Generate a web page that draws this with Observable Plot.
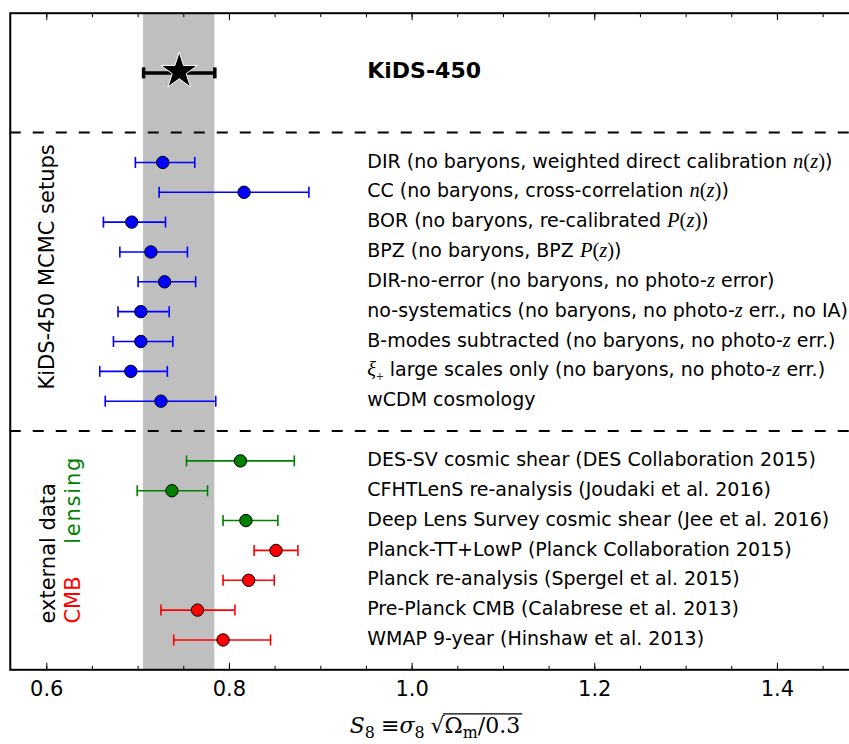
<!DOCTYPE html>
<html><head><meta charset="utf-8">
<script src="https://cdn.jsdelivr.net/npm/d3@7"></script>
<script src="https://cdn.jsdelivr.net/npm/@observablehq/plot@0.6"></script>
<style>html,body{margin:0;padding:0;background:#fff} svg{display:block}</style>
</head><body><div id="chart"></div>
<script>
// ---------- data ----------
const kidsLabel = "KiDS-450";
const kidsValue = 0.745;
const kidsErr = 0.039;

const setupLabels = [
  "DIR (no baryons, weighted direct calibration $n(z)$)",
  "CC (no baryons, cross-correlation $n(z)$)",
  "BOR (no baryons, re-calibrated $P(z)$)",
  "BPZ (no baryons, BPZ $P(z)$)",
  "DIR-no-error (no baryons, no photo-$z$ error)",
  "no-systematics (no baryons, no photo-$z$ err., no IA)",
  "B-modes subtracted (no baryons, no photo-$z$ err.)",
  "$ξ_+$ large scales only (no baryons, no photo-$z$ err.)",
  "wCDM cosmology"
];
const setupValues = [0.727, 0.816, 0.693, 0.714, 0.729, 0.703, 0.703, 0.692, 0.725];
const setupLow    = [0.697, 0.723, 0.662, 0.680, 0.700, 0.678, 0.673, 0.658, 0.664];
const setupHigh   = [0.762, 0.887, 0.730, 0.754, 0.763, 0.734, 0.738, 0.732, 0.785];

const extLabels = [
  "DES-SV cosmic shear (DES Collaboration 2015)",
  "CFHTLenS re-analysis (Joudaki et al. 2016)",
  "Deep Lens Survey cosmic shear (Jee et al. 2016)",
  "Planck-TT+LowP (Planck Collaboration 2015)",
  "Planck re-analysis (Spergel et al. 2015)",
  "Pre-Planck CMB (Calabrese et al. 2013)",
  "WMAP 9-year (Hinshaw et al. 2013)"
];
const extValues = [0.812, 0.737, 0.818, 0.851, 0.821, 0.765, 0.793];
const extLow    = [0.753, 0.699, 0.793, 0.827, 0.793, 0.725, 0.739];
const extHigh   = [0.871, 0.776, 0.853, 0.875, 0.849, 0.806, 0.845];
const extKind   = ["lensing", "lensing", "lensing", "CMB", "CMB", "CMB", "CMB"];

const xTicks = [0.6, 0.8, 1.0, 1.2, 1.4];
const xTickLabels = ["0.6", "0.8", "1.0", "1.2", "1.4"];

// ---------- layout / styles ----------
const kindColor = {setup: "#0000ff", lensing: "#008000", CMB: "#ff0000"};
const setupStart = 3, extStart = 13;
const kidsRow = [{label: kidsLabel, value: kidsValue, lo: kidsValue - kidsErr, hi: kidsValue + kidsErr, row: 0}];
const setups = setupLabels.map((label, i) => ({label, value: setupValues[i], lo: setupLow[i], hi: setupHigh[i], row: setupStart + i, color: kindColor.setup}));
const ext = extLabels.map((label, i) => ({label, value: extValues[i], lo: extLow[i], hi: extHigh[i], row: extStart + i, color: kindColor[extKind[i]]}));
const rows = setups.concat(ext);
const separators = [setupStart - 1, extStart - 1];
const minorTicks = d3.range(0, 18).map(i => +(0.6 + i * 0.05).toFixed(2));

const capSymbol = {draw(ctx, size) { const r = Math.sqrt(size / Math.PI); ctx.moveTo(0, -r); ctx.lineTo(0, r); }};
const SANS = "'DejaVu Sans', sans-serif";
const SERIF = "'Liberation Serif', 'DejaVu Serif', serif";
const MSERIF = "'DejaVu Serif', serif";

const plot = Plot.plot({
  width: 849,
  height: 744,
  marginLeft: 9.75,
  marginRight: -1,
  marginTop: 12.7,
  marginBottom: 74.7,
  style: {fontFamily: SANS, fontSize: "19px", background: "white", color: "black"},
  x: {domain: [0.56, 1.48]},
  y: {domain: [-2, 20], reverse: true, axis: null},
  color: {type: "identity"},
  marks: [
    Plot.rect(kidsRow, {x1: "lo", x2: "hi", fill: "#bfbfbf"}),
    Plot.ruleY(separators, {stroke: "black", strokeWidth: 2, strokeDasharray: "11,12"}),
    // external / setup error bars
    Plot.ruleY(rows, {y: "row", x1: "lo", x2: "hi", stroke: "color", strokeWidth: 1.6}),
    Plot.dot(rows, {x: "lo", y: "row", symbol: capSymbol, r: 5.5, stroke: "color", fill: "none", strokeWidth: 1.6}),
    Plot.dot(rows, {x: "hi", y: "row", symbol: capSymbol, r: 5.5, stroke: "color", fill: "none", strokeWidth: 1.6}),
    Plot.dot(rows, {x: "value", y: "row", r: 6.2, fill: "color", stroke: "black", strokeWidth: 1}),
    // KiDS-450 headline
    Plot.ruleY(kidsRow, {y: "row", x1: "lo", x2: "hi", stroke: "black", strokeWidth: 3.5}),
    Plot.dot(kidsRow, {x: "lo", y: "row", symbol: capSymbol, r: 5.5, stroke: "black", fill: "none", strokeWidth: 3.5}),
    Plot.dot(kidsRow, {x: "hi", y: "row", symbol: capSymbol, r: 5.5, stroke: "black", fill: "none", strokeWidth: 3.5}),
    Plot.dot(kidsRow, {x: "value", y: "row", symbol: "star", r: 11.5, fill: "black", stroke: "white", strokeWidth: 1, dy: -1.5}),
    // row labels
    Plot.text(kidsRow, {y: "row", text: "label", frameAnchor: "left", dx: 357, dy: -1.5, textAnchor: "start", fontWeight: "bold", fontSize: 22, fill: "black"}),
    Plot.text(rows, {y: "row", text: "label", frameAnchor: "left", dx: 357, dy: -1, textAnchor: "start", fontSize: 19, fill: "black"}),
    // group labels (rotated)
    Plot.text(["KiDS-450 MCMC setups"], {text: d => d, y: () => d3.mean(setups, d => d.row) - 0.5, frameAnchor: "left", dx: 44, rotate: -90, textAnchor: "middle", lineAnchor: "bottom", fontSize: 21, fill: "black"}),
    Plot.text(["external data"], {text: d => d, y: () => d3.max(ext, d => d.row) - 0.55, frameAnchor: "left", dx: 44.5, rotate: -90, textAnchor: "start", lineAnchor: "bottom", fontSize: 21, fill: "black"}),
    Plot.text(["CMB"], {text: d => d, y: () => d3.max(ext, d => d.row) - 0.55, frameAnchor: "left", dx: 70, rotate: -90, textAnchor: "start", lineAnchor: "bottom", fontSize: 21, fill: kindColor.CMB}),
    Plot.text(["lensing"], {text: d => d, y: () => d3.max(ext, d => d.row) - 3.22, frameAnchor: "left", dx: 70, rotate: -90, textAnchor: "start", lineAnchor: "bottom", fontSize: 21, fill: kindColor.lensing}),
    // frame + ticks
    Plot.frame({stroke: "black", strokeWidth: 2}),
    Plot.axisX({ticks: xTicks, tickSize: -6.5, tickFormat: () => "", label: null, strokeWidth: 1}),
    Plot.axisX({ticks: minorTicks, tickSize: -3.5, tickFormat: () => "", label: null, strokeWidth: 1}),
    Plot.axisX({anchor: "top", ticks: xTicks, tickSize: -6.5, tickFormat: () => "", label: null, strokeWidth: 1}),
    Plot.axisX({anchor: "top", ticks: minorTicks, tickSize: -3.5, tickFormat: () => "", label: null, strokeWidth: 1}),
    Plot.axisX({ticks: xTicks, tickSize: 0, tickPadding: 11, tickFormat: (d, i) => xTickLabels[i], label: null, fontSize: 21, fill: "black"})
  ]
});
document.getElementById("chart").append(plot);

// ---------- inline math rendering ----------
function addMath(textEl, src, fs, family = SERIF, scale = 1.08) {
  const sel = d3.select(textEl);
  sel.text(null);
  let shift = 0;
  src.split("$").forEach((part, i) => {
    if (!part) return;
    if (i % 2 === 0) {
      const t = sel.append("tspan").text(part);
      if (shift) { t.attr("dy", -shift); shift = 0; }
    } else {
      const chars = Array.from(part);
      for (let k = 0; k < chars.length; k++) {
        let c = chars[k], sub = false;
        if (c === "_") { sub = true; c = chars[++k]; }
        const t = sel.append("tspan").text(c).style("font-family", family);
        if (!sub && /[A-Za-zα-ω]/.test(c)) t.style("font-style", "italic");
        const target = sub ? fs * 0.25 : 0;
        if (target !== shift) { t.attr("dy", target - shift); shift = target; }
        t.style("font-size", (sub ? fs * 0.72 : fs * scale) + "px");
      }
    }
  });
  return shift;
}
const svg = d3.select(plot);
svg.selectAll("text").each(function () {
  const s = this.textContent;
  if (s.includes("$")) addMath(this, s, 19);
  if (s === "lensing") d3.select(this).style("letter-spacing", "1.8px");
});

// axis title: S_8 ≡ σ_8 √(Ω_m/0.3)
const afs = 22, ay = 732.7, acx = 435;
const title = svg.append("text").attr("x", 0).attr("y", ay).attr("fill", "black");
addMath(title.node(), "$S_8$ $≡σ_8$ $√Ω_m/0.3$", afs, MSERIF, 1);
const node = title.node();
const bb = node.getBBox();
title.attr("x", acx - bb.width / 2 - bb.x);
const n = node.getNumberOfChars();
const txt = node.textContent;
const iRoot = txt.indexOf("√");
const eRoot = node.getExtentOfChar(iRoot);
const eLast = node.getExtentOfChar(n - 1);
svg.append("line")
  .attr("x1", eRoot.x + eRoot.width - 1.5).attr("x2", eLast.x + eLast.width + 2)
  .attr("y1", eRoot.y + 1.2).attr("y2", eRoot.y + 1.2)
  .attr("stroke", "black").attr("stroke-width", 1.4);
</script>
</body></html>
